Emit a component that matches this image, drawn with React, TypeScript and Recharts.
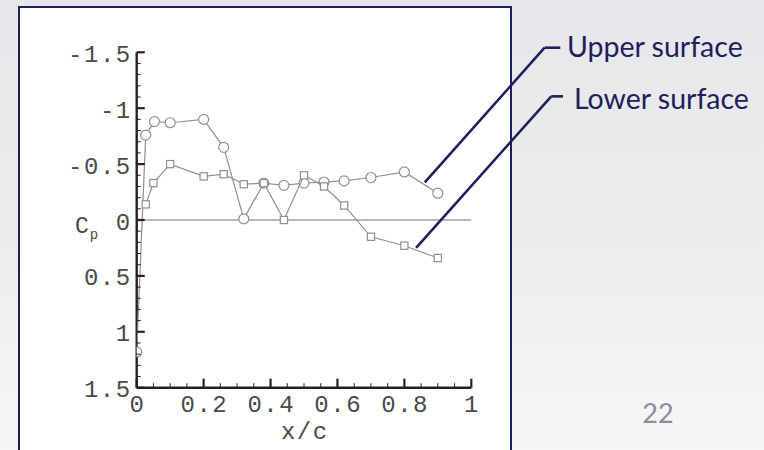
import React from "react";
import {
  ScatterChart,
  Scatter,
  XAxis,
  YAxis,
  ReferenceLine,
} from "recharts";

// x/c stations and Cp (Cp axis runs negative-up)
const UPPER_X = [0, 0.027, 0.053, 0.1, 0.2, 0.26, 0.32, 0.38, 0.44, 0.5, 0.56, 0.62, 0.7, 0.8, 0.9];
const UPPER_CP = [1.18, -0.76, -0.88, -0.87, -0.9, -0.65, -0.01, -0.33, -0.31, -0.33, -0.34, -0.35, -0.38, -0.43, -0.24];

const LOWER_X = [0.027, 0.05, 0.1, 0.2, 0.26, 0.32, 0.38, 0.44, 0.5, 0.56, 0.62, 0.7, 0.8, 0.9];
const LOWER_CP = [-0.14, -0.33, -0.5, -0.39, -0.41, -0.32, -0.33, 0.0, -0.4, -0.3, -0.13, 0.15, 0.23, 0.34];

const X_MAJOR = [0, 0.2, 0.4, 0.6, 0.8, 1];
const X_LABELS = ["0", "0.2", "0.4", "0.6", "0.8", "1"];
const Y_MAJOR = [-1.5, -1, -0.5, 0, 0.5, 1, 1.5];
const Y_LABELS = ["-1.5", "-1", "-0.5", "0", "0.5", "1", "1.5"];

// leader lines for the callouts, in data units
const UPPER_LEADER = [
  { x: 0.861, y: -0.336 },
  { x: 1.219, y: -1.541 },
  { x: 1.266, y: -1.541 },
];
const LOWER_LEADER = [
  { x: 0.835, y: 0.25 },
  { x: 1.239, y: -1.106 },
  { x: 1.274, y: -1.106 },
];

const upperData = UPPER_X.map((x, i) => ({ x, cp: UPPER_CP[i] }));
const lowerData = LOWER_X.map((x, i) => ({ x, cp: LOWER_CP[i] }));

const xTicks: number[] = [];
for (let i = 0; i <= 20; i++) xTicks.push(+(i * 0.05).toFixed(2));
const yTicks: number[] = [];
for (let i = -15; i <= 15; i++) yTicks.push(+(i * 0.1).toFixed(1));

const NAVY = "#1e205e";
const MARK = "#8f8f8f";
const TEXT = "#4a4a4a";
const TICK_FONT = "'Liberation Mono', 'DejaVu Sans Mono', monospace";
const FS = 24;
const LS = 1.5;

const findLabel = (v: number, majors: number[], labels: string[]) => {
  const i = majors.findIndex((m) => Math.abs(m - v) < 1e-6);
  return i >= 0 ? labels[i] : null;
};

const XTick = (props: any) => {
  const { x, y, payload } = props;
  const label = findLabel(payload.value, X_MAJOR, X_LABELS);
  return (
    <g>
      <line x1={x} x2={x} y1={y} y2={y - (label ? 9 : 4.5)} stroke="#222" strokeWidth={label ? 2.2 : 1} />
      {label && (
        <text x={x + LS / 2} y={y + 24.5} textAnchor="middle" fontFamily={TICK_FONT} fontSize={FS} letterSpacing={LS} fill={TEXT}>
          {label}
        </text>
      )}
    </g>
  );
};

const YTick = (props: any) => {
  const { x, y, payload } = props;
  const label = findLabel(payload.value, Y_MAJOR, Y_LABELS);
  return (
    <g>
      <line x1={x} x2={x + (label ? 8 : 4)} y1={y} y2={y} stroke="#222" strokeWidth={label ? 2.2 : 1} />
      {label && (
        <text x={x - 5} y={y + 9.5} textAnchor="end" fontFamily={TICK_FONT} fontSize={FS} letterSpacing={LS} fill={TEXT}>
          {label}
        </text>
      )}
    </g>
  );
};

const CircleMark = (props: any) => (
  <circle cx={props.cx} cy={props.cy} r={5} fill="#fff" stroke={MARK} strokeWidth={1.2} />
);

const SquareMark = (props: any) => (
  <rect x={props.cx - 3.6} y={props.cy - 3.6} width={7.2} height={7.2} fill="#fff" stroke={MARK} strokeWidth={1.2} />
);

export default function App() {
  return (
    <div
      style={{
        position: "absolute",
        left: 0,
        top: 0,
        width: 764,
        height: 450,
        overflow: "hidden",
        background: "linear-gradient(180deg, #e5e7ea 0%, #eceded 55%, #f6f6f6 100%)",
      }}
    >
      <div
        style={{
          position: "absolute",
          left: 18,
          top: 6,
          width: 490,
          height: 460,
          background: "#fff",
          border: `2px solid ${NAVY}`,
        }}
      />
      <div style={{ position: "absolute", left: 0, top: 0 }}>
        <ScatterChart
          width={764}
          height={450}
          margin={{ top: 52.3, right: 292.7, bottom: 32.3, left: 76.7 }}
        >
          <XAxis
            type="number"
            dataKey="x"
            domain={[0, 1]}
            ticks={xTicks}
            interval={0}
            allowDataOverflow
            height={30}
            tickSize={0}
            tickMargin={0}
            tickLine={false}
            tick={<XTick />}
            axisLine={{ stroke: "#222", strokeWidth: 2.4 }}
          />
          <YAxis
            type="number"
            dataKey="cp"
            domain={[-1.5, 1.5]}
            reversed
            ticks={yTicks}
            interval={0}
            allowDataOverflow
            width={60}
            tickSize={0}
            tickMargin={0}
            tickLine={false}
            tick={<YTick />}
            axisLine={{ stroke: "#222", strokeWidth: 2.4 }}
          />
          <ReferenceLine y={0} stroke="#a0a0a0" strokeWidth={1.4} />
          <Scatter
            data={upperData}
            line={{ stroke: MARK, strokeWidth: 1.2 }}
            shape={<CircleMark />}
            isAnimationActive={false}
          />
          <Scatter
            data={lowerData}
            line={{ stroke: MARK, strokeWidth: 1.2 }}
            shape={<SquareMark />}
            isAnimationActive={false}
          />
          <ReferenceLine segment={[UPPER_LEADER[0], UPPER_LEADER[1]]} ifOverflow="visible" stroke={NAVY} strokeWidth={2.6} />
          <ReferenceLine segment={[UPPER_LEADER[1], UPPER_LEADER[2]]} ifOverflow="visible" stroke={NAVY} strokeWidth={2.6} />
          <ReferenceLine segment={[LOWER_LEADER[0], LOWER_LEADER[1]]} ifOverflow="visible" stroke={NAVY} strokeWidth={2.6} />
          <ReferenceLine segment={[LOWER_LEADER[1], LOWER_LEADER[2]]} ifOverflow="visible" stroke={NAVY} strokeWidth={2.6} />
        </ScatterChart>
      </div>
      <svg width={764} height={450} style={{ position: "absolute", left: 0, top: 0, pointerEvents: "none" }}>
        <text x={304 + LS / 2} y={439} textAnchor="middle" fontFamily={TICK_FONT} fontSize={FS} letterSpacing={LS} fill={TEXT}>
          x/c
        </text>
        <text x={75} y={233} fontFamily={TICK_FONT} fontSize={23} fill={TEXT}>
          C
          <tspan dx={1} dy={6} fontSize={14}>p</tspan>
        </text>
        <text x={567} y={57} fontFamily="Lato, 'Open Sans', sans-serif" fontSize={28.5} fill={NAVY}>
          Upper surface
        </text>
        <text x={574} y={109} fontFamily="Lato, 'Open Sans', sans-serif" fontSize={28.5} fill={NAVY}>
          Lower surface
        </text>
        <text x={658} y={423} textAnchor="middle" fontFamily="Lato, 'Open Sans', sans-serif" fontSize={27} fill="#8a8ca0">
          22
        </text>
      </svg>
    </div>
  );
}
